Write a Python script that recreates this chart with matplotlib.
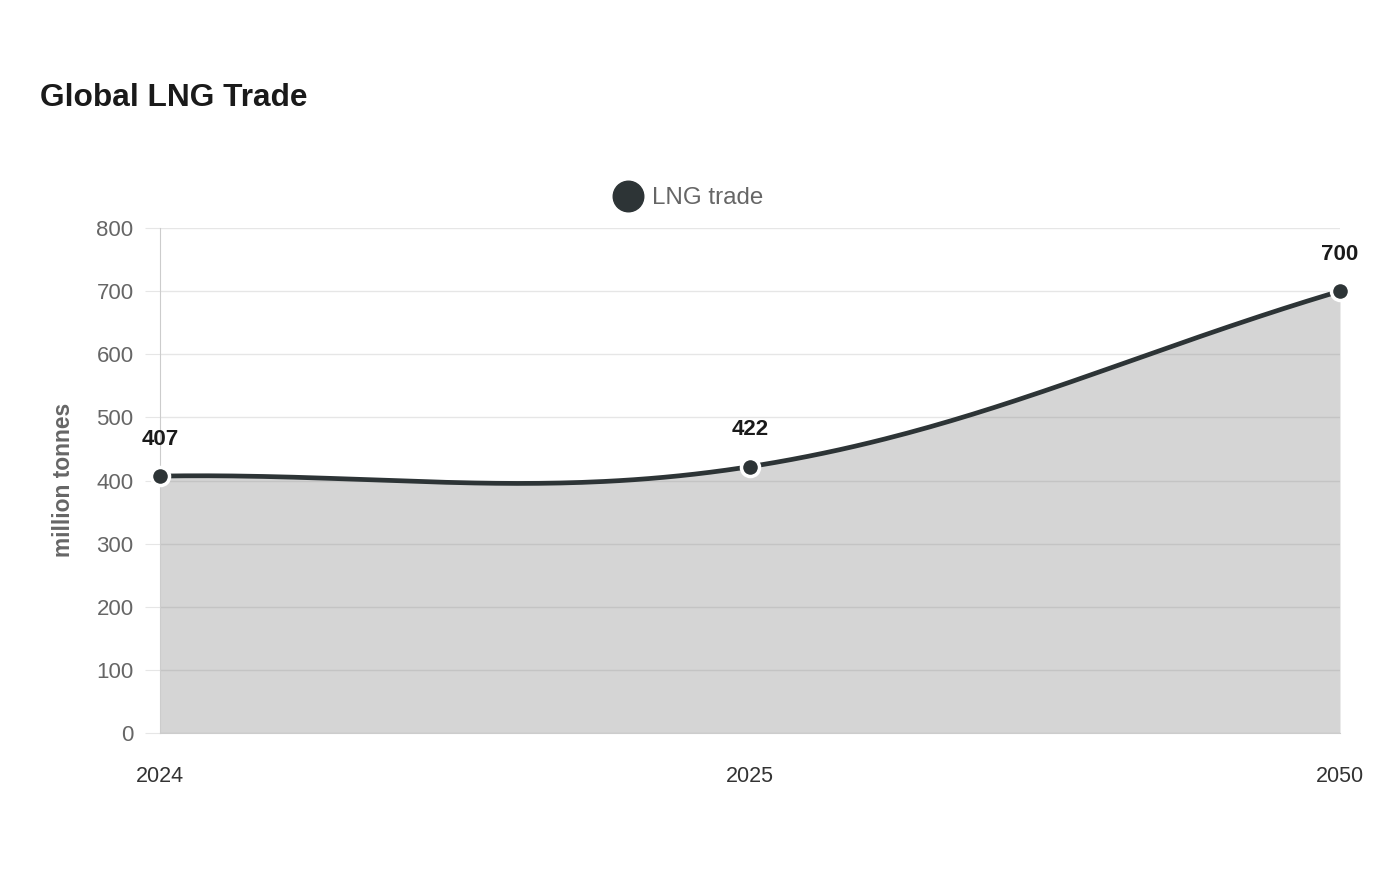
import matplotlib
matplotlib.use('Agg')

import matplotlib.pyplot as plt
import numpy as np
from matplotlib.lines import Line2D

plt.rcParams['font.family'] = ['Liberation Sans', 'DejaVu Sans']

years = ['2024', '2025', '2050']
lng_trade = [407, 422, 700]
y_ticks = [0, 100, 200, 300, 400, 500, 600, 700, 800]

LINE_COLOR = '#2d3436'
MUTED = '#666666'


def _spline(pts, tension=0.4, steps=80):
    """Cubic bezier through points, control points like a chart.js tension spline."""
    n = len(pts)
    c_prev, c_next = [], []
    for i in range(n):
        cur = pts[i]
        prev = pts[i - 1] if i > 0 else cur
        nxt = pts[i + 1] if i < n - 1 else cur
        d01 = np.hypot(*(cur - prev))
        d12 = np.hypot(*(nxt - cur))
        tot = d01 + d12
        s01 = d01 / tot if tot else 0
        s12 = d12 / tot if tot else 0
        c_prev.append(cur - tension * s01 * (nxt - prev))
        c_next.append(cur + tension * s12 * (nxt - prev))
    t = np.linspace(0, 1, steps)[:, None]
    out = [pts[:1]]
    for i in range(n - 1):
        p0, c1, c2, p3 = pts[i], c_next[i], c_prev[i + 1], pts[i + 1]
        seg = (1 - t) ** 3 * p0 + 3 * (1 - t) ** 2 * t * c1 + 3 * (1 - t) * t ** 2 * c2 + t ** 3 * p3
        out.append(seg[1:])
    return np.vstack(out)


fig = plt.figure(figsize=(14, 8.8), dpi=100)
ax = fig.add_axes([160 / 1400, 1 - 733 / 880, 1180 / 1400, 505 / 880])

x = np.arange(len(years))
ax.set_xlim(0, len(years) - 1)
ax.set_ylim(0, 800)

# smooth curve computed in pixel space, then mapped back to data
disp = ax.transData.transform(np.column_stack([x, lng_trade]))
curve = ax.transData.inverted().transform(_spline(disp, tension=0.37))

ax.fill_between(curve[:, 0], curve[:, 1], 0, color='#808080', alpha=0.33, linewidth=0, zorder=2)
ax.plot(curve[:, 0], curve[:, 1], color=LINE_COLOR, linewidth=3.4, solid_capstyle='round', zorder=3)
ax.plot(x, lng_trade, 'o', color=LINE_COLOR, markersize=13, markeredgecolor='white',
        markeredgewidth=2.5, zorder=4, clip_on=False)

for xi, val in zip(x, lng_trade):
    ax.annotate(str(val), (xi, val), xytext=(0, 26.5), textcoords='offset points',
                ha='center', va='center', fontsize=16, fontweight='bold', color='#1a1a1a')

ax.set_yticks(y_ticks)
ax.set_xticks(x)
ax.set_xticklabels(years)
ax.grid(axis='y', color='#e6e6e6', linewidth=1)
ax.set_axisbelow(True)
ax.tick_params(axis='y', length=11, color='#e6e6e6', labelsize=16, labelcolor=MUTED, pad=8)
ax.tick_params(axis='x', length=0, labelsize=15.5, labelcolor='#333333', pad=24)
for side in ('top', 'right'):
    ax.spines[side].set_visible(False)
ax.spines['left'].set_color('#cccccc')
ax.spines['bottom'].set_color('#cccccc')

fig.text(63 / 1400, 1 - 480 / 880, 'million tonnes', rotation=90, ha='center', va='center',
         fontsize=16.4, fontweight='bold', color=MUTED)

fig.text(40 / 1400, 1 - 98 / 880, 'Global LNG Trade', ha='left', va='center',
         fontsize=22.8, fontweight='bold', color='#1a1a1a')

# legend
fig.add_artist(Line2D([628 / 1400], [1 - 196 / 880], marker='o', markersize=22, color=LINE_COLOR,
                      linestyle='none', transform=fig.transFigure))
fig.text(652 / 1400, 1 - 198 / 880, 'LNG trade', ha='left', va='center', fontsize=17.4, color=MUTED)

fig.savefig('out.png', dpi=100, facecolor='white')
